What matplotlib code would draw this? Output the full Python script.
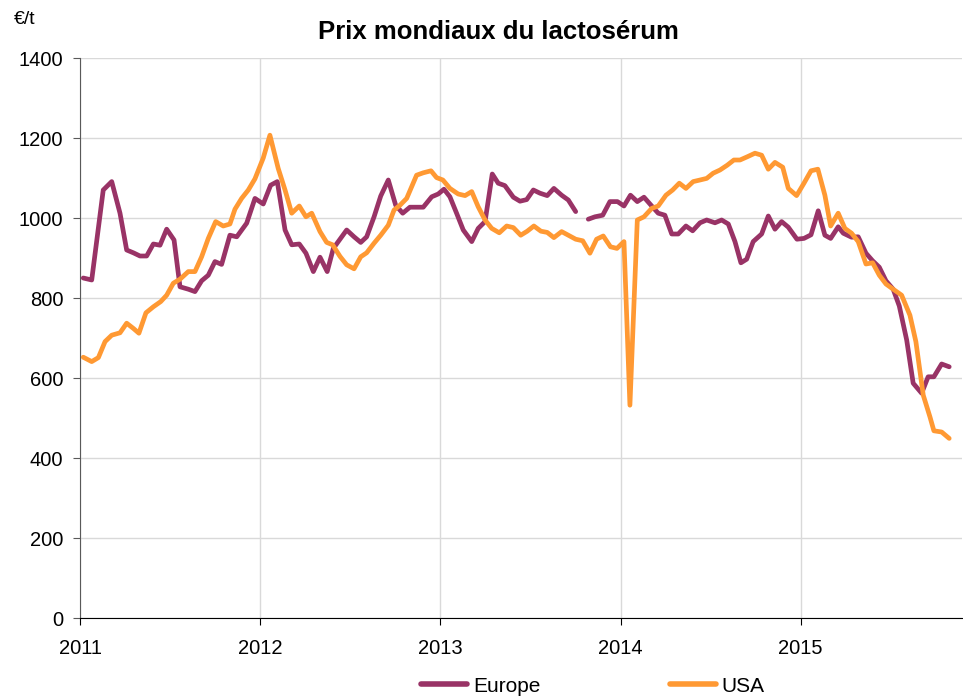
import numpy as np
import matplotlib
matplotlib.use("Agg")
import matplotlib.pyplot as plt

plt.rcParams['font.family'] = ['Liberation Sans', 'DejaVu Sans']

# decimal-year positions and prices (EUR/t)
eu_t = [0.018, 0.065, 0.129, 0.176, 0.222, 0.259, 0.296, 0.333, 0.370, 0.407, 0.444, 0.481,
        0.522, 0.555, 0.601, 0.638, 0.675, 0.712, 0.749, 0.786, 0.832, 0.870, 0.925, 0.971,
        1.017, 1.058, 1.095, 1.138, 1.175, 1.217, 1.254, 1.295, 1.332, 1.372, 1.406, 1.480,
        1.521, 1.558, 1.591, 1.632, 1.669, 1.711, 1.752, 1.791, 1.831, 1.905, 1.952, 1.988,
        2.020, 2.053, 2.090, 2.127, 2.174, 2.210, 2.248, 2.288, 2.321, 2.358, 2.405, 2.442,
        2.479, 2.516, 2.553, 2.593, 2.630, 2.673, 2.710, 2.751, 2.786,
        2.821, 2.858, 2.901, 2.941, 2.983, 3.019, 3.055, 3.093, 3.130, 3.173, 3.209, 3.246,
        3.284, 3.320, 3.363, 3.400, 3.441, 3.478, 3.524, 3.561, 3.598, 3.635, 3.668, 3.700,
        3.736, 3.783, 3.820, 3.857, 3.894, 3.931, 3.979, 4.018, 4.057, 4.097, 4.134, 4.166,
        4.208, 4.236, 4.282, 4.319, 4.362, 4.399, 4.436, 4.473, 4.513, 4.547, 4.588, 4.624,
        4.671, 4.707, 4.739, 4.782, 4.824]
eu_v = [850, 845, 1070, 1091, 1012, 920, 913, 905, 905, 935, 932, 972,
        945, 828, 822, 816, 843, 857, 891, 884, 957, 953, 987, 1049,
        1035, 1082, 1091, 970, 933, 935, 912, 866, 902, 866, 924, 970,
        953, 939, 953, 1003, 1055, 1095, 1032, 1012, 1027, 1027, 1053, 1060,
        1072, 1053, 1012, 970, 941, 974, 991, 1110, 1087, 1081, 1052, 1042,
        1046, 1070, 1062, 1056, 1074, 1057, 1045, 1016, np.nan,
        997, 1003, 1007, 1041, 1041, 1030, 1057, 1041, 1052, 1030, 1012, 1007,
        960, 960, 980, 968, 988, 995, 988, 995, 985, 941, 888, 897,
        941, 960, 1005, 972, 991, 977, 947, 949, 958, 1018, 957, 949,
        978, 962, 952, 953, 912, 893, 877, 843, 822, 780, 695, 587,
        562, 603, 603, 635, 628]

us_t = [0.018, 0.065, 0.102, 0.139, 0.176, 0.222, 0.259, 0.296, 0.327, 0.366, 0.407, 0.448,
        0.481, 0.518, 0.555, 0.601, 0.638, 0.675, 0.712, 0.753, 0.795, 0.832, 0.860, 0.897,
        0.934, 0.971, 1.017, 1.054, 1.100, 1.138, 1.175, 1.217, 1.254, 1.286, 1.332, 1.369,
        1.402, 1.443, 1.480, 1.521, 1.558, 1.591, 1.632, 1.669, 1.711, 1.743, 1.776, 1.813,
        1.868, 1.905, 1.948, 1.979, 2.014, 2.053, 2.099, 2.137, 2.174, 2.210, 2.248, 2.285,
        2.327, 2.368, 2.405, 2.446, 2.482, 2.519, 2.558, 2.593, 2.630, 2.673, 2.710, 2.751,
        2.790, 2.830, 2.867, 2.904, 2.944, 2.980, 3.019, 3.052, 3.093, 3.130, 3.173, 3.209,
        3.252, 3.289, 3.326, 3.363, 3.403, 3.441, 3.478, 3.514, 3.552, 3.592, 3.629, 3.663,
        3.703, 3.746, 3.783, 3.820, 3.857, 3.900, 3.931, 3.977, 4.018, 4.057, 4.095, 4.134,
        4.166, 4.208, 4.245, 4.282, 4.319, 4.362, 4.399, 4.436, 4.473, 4.513, 4.560, 4.606,
        4.639, 4.680, 4.717, 4.739, 4.782, 4.824]
us_v = [652, 641, 651, 691, 707, 713, 737, 724, 712, 763, 778, 791,
        807, 837, 847, 866, 866, 903, 949, 991, 980, 985, 1022, 1049,
        1070, 1098, 1150, 1207, 1124, 1070, 1012, 1030, 1003, 1012, 966, 939,
        933, 904, 883, 873, 903, 913, 937, 957, 982, 1020, 1032, 1049,
        1107, 1113, 1118, 1101, 1095, 1074, 1060, 1056, 1066, 1028, 995, 974,
        963, 980, 976, 957, 967, 980, 967, 964, 951, 966, 957, 947,
        943, 912, 947, 955, 928, 924, 941, 532, 995, 1003, 1024, 1030,
        1057, 1070, 1087, 1074, 1091, 1095, 1099, 1112, 1120, 1132, 1145, 1145,
        1153, 1162, 1157, 1122, 1139, 1127, 1074, 1056, 1087, 1118, 1122, 1057,
        980, 1012, 974, 962, 941, 885, 888, 857, 835, 822, 807, 757,
        691, 557, 503, 468, 465, 449]

start_year = 2011
years = [2011, 2012, 2013, 2014, 2015]
yticks = [0, 200, 400, 600, 800, 1000, 1200, 1400]

fig = plt.figure(figsize=(9.63, 6.98), dpi=100)
ax = fig.add_axes([80/963, 1-618/698, 882/963, 560/698])

ax.plot(np.array(eu_t) + start_year, eu_v, color='#993366', lw=3.4, label='Europe',
        solid_joinstyle='round', solid_capstyle='round', zorder=3)
ax.plot(np.array(us_t) + start_year, us_v, color='#FF9933', lw=3.4, label='USA',
        solid_joinstyle='round', solid_capstyle='round', zorder=3)

ax.set_xlim(2011, 2015.895)
ax.set_ylim(0, 1400)
ax.set_xticks(years)
ax.set_xticklabels([str(y) for y in years])
ax.set_yticks(yticks)
ax.grid(True, color='#D9D9D9', lw=1.0, zorder=0)
ax.set_axisbelow(True)
for s in ['top', 'right']:
    ax.spines[s].set_visible(False)
ax.spines['left'].set_color('#595959')
ax.spines['bottom'].set_color('#000000')
ax.tick_params(axis='y', direction='out', length=5, color='#595959', labelsize=14.5, pad=7)
ax.tick_params(axis='x', direction='out', length=5, color='#000000', labelsize=14.5, pad=10)

fig.text(498/963, 1-32/698, 'Prix mondiaux du lactosérum', ha='center', va='center',
         fontsize=18.5, fontweight='bold')
fig.text(14/963, 1-20/698, '€/t', ha='left', va='center', fontsize=14)

leg = fig.legend(loc='center', bbox_to_anchor=(593/963, 1-686/698), ncol=2, frameon=False,
                 fontsize=15, handlelength=2.2, handletextpad=0.3, columnspacing=6.2)
for h in leg.get_lines():
    h.set_linewidth(4)

fig.savefig('out.png', dpi=100)
